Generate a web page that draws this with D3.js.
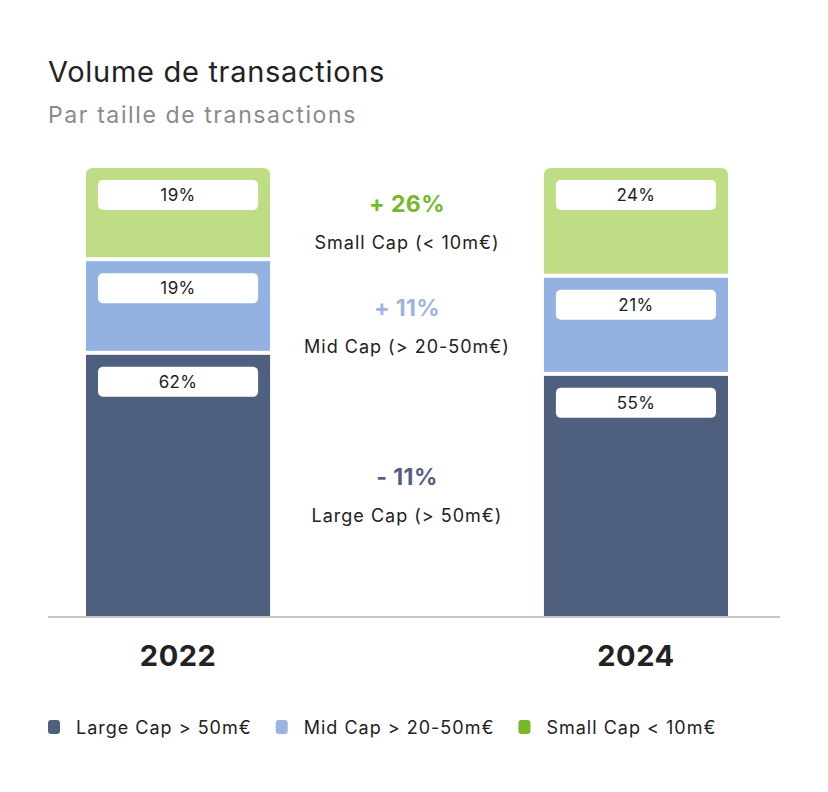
<!DOCTYPE html>
<html>
<head>
<meta charset="utf-8">
<script src="https://cdn.jsdelivr.net/npm/d3@7"></script>
<style>
  body { margin: 0; background: #ffffff; }
  text { font-family: "Inter", "Noto Sans", sans-serif; }
</style>
</head>
<body>
<div id="chart"></div>
<script>
// data
var years = ['2022', '2024'];
var segments = ['large', 'mid', 'small'];
// bar heights as drawn (percent of stack), bottom -> top
var large = [58.3, 53.6];
var mid = [20.9, 21.9];
var small = [20.8, 24.5];
// labels shown in the white boxes
var largeLabels = ['62%', '55%'];
var midLabels = ['19%', '21%'];
var smallLabels = ['19%', '24%'];
// evolution annotations between the bars
var evolution = ['- 11%', '+ 11%', '+ 26%'];
var evolutionNames = ['Large Cap (> 50m€)', 'Mid Cap (> 20-50m€)', 'Small Cap (< 10m€)'];
var legendNames = ['Large Cap > 50m€', 'Mid Cap > 20-50m€', 'Small Cap < 10m€'];

var barColors = { large: '#4f607e', mid: '#93b1e1', small: '#bfdd85' };
var legendColors = { large: '#4f607e', mid: '#9db4e0', small: '#76b82a' };
var evoColors = { large: '#525f80', mid: '#9db4e2', small: '#76b82a' };

var width = 828, height = 792;
var svg = d3.select('#chart').append('svg')
    .attr('width', width)
    .attr('height', height);

// titles
svg.append('text')
    .attr('x', 48).attr('y', 82)
    .attr('fill', '#222')
    .style('font-size', '29px')
    .style('letter-spacing', '0.7px')
    .text('Volume de transactions');

svg.append('text')
    .attr('x', 48).attr('y', 123)
    .attr('fill', '#8a8a8a')
    .style('font-size', '23px')
    .style('letter-spacing', '1.6px')
    .text('Par taille de transactions');

// scales
var x = d3.scaleBand().domain(years).range([86, 728]).paddingInner(0.598).paddingOuter(0);
var y = d3.scaleLinear().domain([0, 100]).range([616, 168]);
var gap = 4;

var table = years.map(function (yr, i) {
    return { year: yr, large: large[i], mid: mid[i], small: small[i] };
});
var labels = { large: largeLabels, mid: midLabels, small: smallLabels };
var stacked = d3.stack().keys(segments)(table);

function topRounded(x0, y0, w, h, r) {
    return 'M' + x0 + ',' + (y0 + h) +
        'V' + (y0 + r) +
        'Q' + x0 + ',' + y0 + ' ' + (x0 + r) + ',' + y0 +
        'H' + (x0 + w - r) +
        'Q' + (x0 + w) + ',' + y0 + ' ' + (x0 + w) + ',' + (y0 + r) +
        'V' + (y0 + h) + 'Z';
}

stacked.forEach(function (layer, li) {
    var key = layer.key;
    layer.forEach(function (d, i) {
        var x0 = x(years[i]);
        var top = y(d[1]);
        var h = y(d[0]) - y(d[1]) - (li > 0 ? gap : 0);
        if (li === stacked.length - 1) {
            svg.append('path')
                .attr('d', topRounded(x0, top, x.bandwidth(), h, 7))
                .attr('fill', barColors[key]);
        } else {
            svg.append('rect')
                .attr('x', x0).attr('y', top)
                .attr('width', x.bandwidth()).attr('height', h)
                .attr('fill', barColors[key]);
        }
        svg.append('rect')
            .attr('x', x0 + 12).attr('y', top + 12)
            .attr('width', x.bandwidth() - 24).attr('height', 30)
            .attr('rx', 5)
            .attr('fill', '#ffffff');
        svg.append('text')
            .attr('x', x0 + x.bandwidth() / 2).attr('y', top + 33)
            .attr('text-anchor', 'middle')
            .attr('fill', '#222')
            .style('font-size', '17px')
            .style('letter-spacing', '0.4px')
            .text(labels[key][i]);
    });
});

// baseline
svg.append('line')
    .attr('x1', 48).attr('x2', 780)
    .attr('y1', 617).attr('y2', 617)
    .attr('stroke', '#c6c6c6')
    .attr('stroke-width', 2);

// year labels
var xAxis = svg.append('g')
    .attr('transform', 'translate(0,' + 617 + ')')
    .call(d3.axisBottom(x).tickSize(0).tickPadding(28));
xAxis.select('.domain').remove();
xAxis.selectAll('text')
    .attr('fill', '#222')
    .style('font-family', 'Inter, sans-serif')
    .style('font-size', '29px')
    .style('font-weight', '700')
    .style('letter-spacing', '0.5px');

// evolution annotations, centred between the bars, level with the 2024 segments
var midX = (x(years[0]) + x.bandwidth() + x(years[1])) / 2;
stacked.forEach(function (layer, li) {
    var c = y((layer[1][0] + layer[1][1]) / 2) - 11;
    svg.append('text')
        .attr('x', midX).attr('y', c)
        .attr('text-anchor', 'middle')
        .attr('fill', evoColors[layer.key])
        .style('font-size', '23px')
        .style('font-weight', '700')
        .style('letter-spacing', '0.4px')
        .text(evolution[li]);
    svg.append('text')
        .attr('x', midX).attr('y', c + 37)
        .attr('text-anchor', 'middle')
        .attr('fill', '#222')
        .style('font-size', '18px')
        .style('letter-spacing', '1px')
        .text(evolutionNames[li]);
});

// legend
var lx = 48;
segments.forEach(function (key, i) {
    svg.append('rect')
        .attr('x', lx).attr('y', 720)
        .attr('width', 12).attr('height', 14)
        .attr('rx', 3)
        .attr('fill', legendColors[key]);
    var t = svg.append('text')
        .attr('x', lx + 28).attr('y', 734)
        .attr('fill', '#222')
        .style('font-size', '18px')
        .style('letter-spacing', '1px')
        .text(legendNames[i]);
    lx += 28 + t.node().getComputedTextLength() + 24;
});
</script>
</body>
</html>
